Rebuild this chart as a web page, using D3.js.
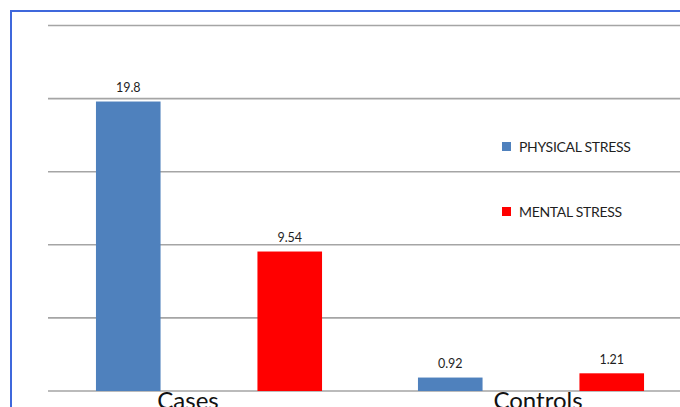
<!doctype html>
<html>
  <head>
    <meta charset="utf-8">
    <title>Physical and mental stress</title>
    <style>
      html, body { margin: 0; padding: 0; background: #fff; }
      svg { display: block; font-family: Lato, "Open Sans", sans-serif; }
      .value-label { font-size: 12.5px; fill: #1f1f1f; }
      .cat-label { font-size: 24px; fill: #111; }
      .legend-label { font-size: 14px; fill: #1f1f1f; letter-spacing: -0.3px; }
    </style>
  </head>
  <body>
    <div id="chart"></div>
    <script src="https://d3js.org/d3.v7.min.js"></script>
    <script>
      // data
      const categories = ['Cases', 'Controls'];
      const series = ['PHYSICAL STRESS', 'MENTAL STRESS'];
      const physical = [19.8, 0.92];
      const mental = [9.54, 1.21];
      const yTicks = [0, 5, 10, 15, 20, 25];

      const width = 680, height = 407;
      const colors = d3.scaleOrdinal(series, ['#4f81bd', '#ff0000']);

      const y = d3.scaleLinear().domain([0, 25]).range([391, 25.5]);
      const x0 = d3.scaleBand().domain(categories).range([48, 692]);
      const x1 = d3.scaleBand().domain(series)
        .range([0, x0.bandwidth()])
        .paddingInner(0.6)
        .paddingOuter(0.297);

      const rows = categories.map((c, i) => ({
        category: c,
        values: [
          {key: series[0], value: physical[i]},
          {key: series[1], value: mental[i]}
        ]
      }));

      const svg = d3.select('#chart')
        .append('svg')
        .attr('width', width)
        .attr('height', height);

      svg.append('rect')
        .attr('width', width)
        .attr('height', height)
        .attr('fill', '#fff');

      // frame of the original screenshot
      svg.append('rect')
        .attr('x', 11)
        .attr('y', 11)
        .attr('width', width + 20)
        .attr('height', height + 20)
        .attr('fill', 'none')
        .attr('stroke', '#3f68dc')
        .attr('stroke-width', 2);

      svg.append('g')
        .selectAll('line')
        .data(yTicks)
        .join('line')
        .attr('x1', 48)
        .attr('x2', width)
        .attr('y1', d => y(d))
        .attr('y2', d => y(d))
        .attr('stroke', '#a5a5a5')
        .attr('stroke-width', 1.6);

      const groups = svg.append('g')
        .selectAll('g')
        .data(rows)
        .join('g')
        .attr('transform', d => `translate(${x0(d.category)},0)`);

      groups.selectAll('rect')
        .data(d => d.values)
        .join('rect')
        .attr('x', d => x1(d.key))
        .attr('y', d => y(d.value))
        .attr('width', x1.bandwidth())
        .attr('height', d => y(0) - y(d.value))
        .attr('fill', d => colors(d.key));

      groups.selectAll('text')
        .data(d => d.values)
        .join('text')
        .attr('class', 'value-label')
        .attr('x', d => x1(d.key) + x1.bandwidth() / 2)
        .attr('y', d => y(d.value) - 9.5)
        .attr('text-anchor', 'middle')
        .text(d => d.value);

      // category labels sit a bit off centre in the original
      const labelShift = {Cases: -21, Controls: 7};
      svg.append('g')
        .selectAll('text')
        .data(categories)
        .join('text')
        .attr('class', 'cat-label')
        .attr('x', d => x0(d) + x0.bandwidth() / 2 + labelShift[d])
        .attr('y', 409)
        .attr('text-anchor', 'middle')
        .text(d => d);

      const legend = svg.append('g')
        .attr('transform', 'translate(502,142)');

      const item = legend.selectAll('g')
        .data(series)
        .join('g')
        .attr('transform', (d, i) => `translate(0,${i * 65})`);

      item.append('rect')
        .attr('width', 9)
        .attr('height', 9)
        .attr('fill', d => colors(d));

      item.append('text')
        .attr('class', 'legend-label')
        .attr('x', 17)
        .attr('y', 9.5)
        .text(d => d);
    </script>
  </body>
</html>
